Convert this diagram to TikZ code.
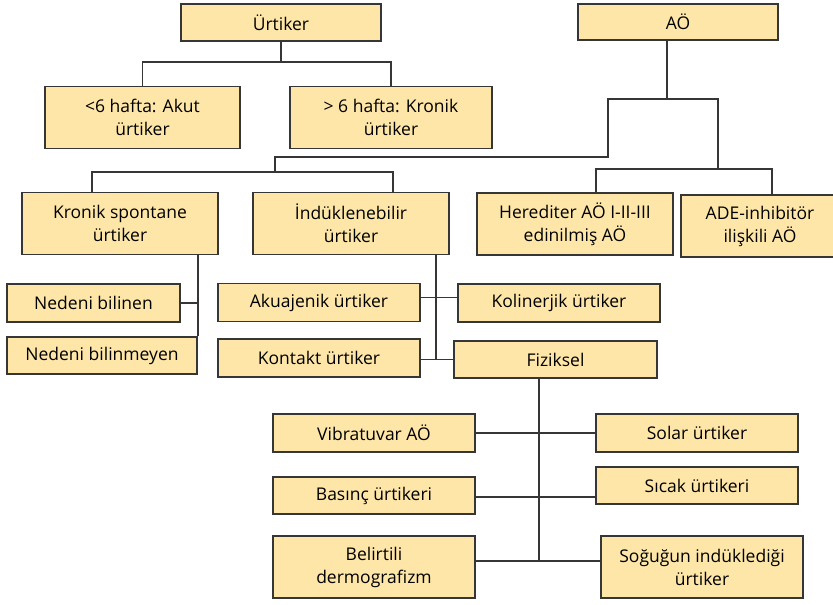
\documentclass[tikz,border=0pt]{standalone}
\usepackage{fontspec}
\setmainfont{Open Sans}
\usetikzlibrary{positioning,calc}
\definecolor{boxfill}{HTML}{FDE6A8}
\definecolor{boxline}{HTML}{363636}

\begin{document}
\begin{tikzpicture}[
  x=1pt, y=-1pt,
  font=\fontsize{17.5}{23}\selectfont,
  box/.style={draw=boxline, fill=boxfill, line width=1.6pt, align=center, inner sep=2pt,
              minimum width=202pt, minimum height=38pt},
  tall/.style={box, minimum height=62pt},
  link/.style={draw=boxline, line width=1.4pt},
]
\useasboundingbox (0,0) rectangle (833,605);

% --- Top rows: Urtiker and AO ---------------------------------------------
\node[box, minimum width=200pt, minimum height=37pt] (urt) at (281,22.5) {Ürtiker};
\node[box, minimum width=200pt, minimum height=36pt] (ao) at (678,22) {AÖ};
\node[tall, minimum width=195pt] (akut) at (142.5,117.5) {<6 hafta: Akut\\ürtiker};
\node[tall] (kron) at (391,117.5) {> 6 hafta: Kronik\\ürtiker};

\draw[link] (urt.south) -- ++(0,20) coordinate (uj);
\draw[link] (akut.north) |- (uj) -| (kron.north);

% --- Second row: kinds of urticaria and AO -------------------------------
\node[tall, minimum width=196pt] (ksu) at (120,223.5) {Kronik spontane\\ürtiker};
\node[tall, minimum width=196pt] (ind) at (351,223.5) {İndüklenebilir\\ürtiker};
\node[tall, minimum width=196pt] (hered) at (575,224) {Herediter AÖ I-II-III\\edinilmiş AÖ};
\node[tall, minimum width=158pt] (ade) at (760,226) {ADE-inhibitör\\ilişkili AÖ};

\draw[link] ([xshift=-11pt]ao.south) -- ++(0,58) coordinate (aj);
\coordinate (kj) at (275,172);
\coordinate (kb1) at (275,157);
\coordinate (kb2) at (608,157);
\coordinate (hj) at (718,169);
\draw[link] (kj) -- (kb1) -- (kb2) |- (aj) -| (hj);
\draw[link] ([xshift=-28pt]ksu.north) |- (kj) -| ([xshift=42pt]ind.north);
\draw[link] ([xshift=21pt]hered.north) |- (hj) -| ([xshift=12pt]ade.north);

% --- Kronik spontane urtiker ---------------------------------------------
\node[box, minimum width=173pt] (nbil) at (93.5,303) {Nedeni bilinen};
\node[box, minimum width=190pt, minimum height=37pt] (nbm) at (102,355.5) {Nedeni bilinmeyen};
\draw[link] (ksu.south -| nbm.north east) -- (nbm.north east);
\draw[link] (nbil.east) -- (nbil.east -| nbm.north east);

% --- Induklenebilir urtiker ----------------------------------------------
\node[box] (aku) at (319,302.5) {Akuajenik ürtiker};
\node[box] (kol) at (559,303) {Kolinerjik ürtiker};
\node[box] (kon) at (319,358) {Kontakt ürtiker};
\node[box, minimum width=203pt, minimum height=37pt] (fiz) at (555.5,359.5) {Fiziksel};
\coordinate (it) at ([xshift=85pt]ind.south);
\draw[link] (it) -- (it |- fiz.west);
\draw[link] ([yshift=5pt]aku.east) -- ([yshift=5pt]aku.east -| kol.west);
\draw[link] (fiz.west) -- (fiz.west -| kon.east);

% --- Fiziksel ------------------------------------------------------------
\node[box] (vib) at (374,433) {Vibratuvar AÖ};
\node[box, minimum height=37pt] (bas) at (374,495.5) {Basınç ürtikeri};
\node[tall] (bel) at (374,567) {Belirtili\\dermografizm};
\node[box] (sol) at (697,433) {Solar ürtiker};
\node[box, minimum height=37pt] (sic) at (697,485.5) {Sıcak ürtikeri};
\node[tall] (sog) at (702,567) {Soğuğun indüklediği\\ürtiker};
\coordinate (ft) at ([xshift=-16.5pt]fiz.south);
\draw[link] (ft) -- ([yshift=6pt]ft |- bel.east);
\draw[link] (vib.east) -- (sol.west);
\draw[link] ([yshift=-1.5pt]bas.east) -- ([yshift=-1.5pt]bas.east -| sic.west);
\draw[link] ([yshift=6pt]bel.east) -- ([yshift=6pt]sog.west);

\end{tikzpicture}
\end{document}
